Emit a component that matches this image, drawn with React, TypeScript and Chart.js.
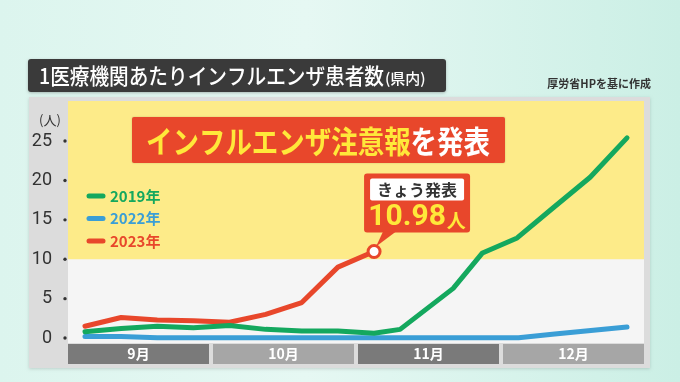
import React, { useEffect, useRef } from "react";
import { Chart, registerables } from "chart.js";

Chart.register(...registerables);

// ---- data ----
const weekIndex = [0, 1, 2, 3, 4, 5, 6, 7, 8, 9, 10, 11, 12, 13, 14, 15];
const x2019 = [0, 1, 2, 3, 4, 5, 6, 7, 8, 8.72, 10.19, 11, 11.96, 12.95, 13.98, 15];
const v2019 = [0.8, 1.2, 1.5, 1.3, 1.6, 1.1, 0.9, 0.9, 0.6, 1.1, 6.3, 10.8, 12.7, 16.5, 20.4, 25.4];
const v2022 = [0.2, 0.2, 0.05, 0.05, 0.05, 0.05, 0.05, 0.05, 0.05, 0.05, 0.05, 0.05, 0.05, 0.5, 0.95, 1.4];
const v2023 = [1.5, 2.6, 2.3, 2.2, 2.0, 3.0, 4.5, 9.0, 10.98];
const seriesNames = ["2019年", "2022年", "2023年"];
const seriesColors = ["#14a85e", "#3a9ed6", "#e8472b"];
const months = ["9月", "10月", "11月", "12月"];
const yTicks = [0, 5, 10, 15, 20, 25];
const alertLevel = 10;
const titleMain = "1医療機関あたりインフルエンザ患者数";
const titleSub = "(県内)";
const sourceText = "厚労省HPを基に作成";
const headlineYellow = "インフルエンザ注意報";
const headlineWhite = "を発表";
const calloutLabel = "きょう発表";
const calloutValue = "10.98";
const calloutUnit = "人";
const yUnit = "(人)";

const JP = "'Noto Sans CJK JP', 'Noto Sans', sans-serif";

function fitText(ctx: CanvasRenderingContext2D, text: string, x: number, y: number, maxW: number) {
  const w = ctx.measureText(text).width;
  if (w > maxW) {
    ctx.save();
    ctx.translate(x, y);
    ctx.scale(maxW / w, 1);
    ctx.fillText(text, 0, 0);
    ctx.restore();
    return maxW;
  }
  ctx.fillText(text, x, y);
  return w;
}

function roundRect(ctx: CanvasRenderingContext2D, x: number, y: number, w: number, h: number, r: number) {
  ctx.beginPath();
  ctx.moveTo(x + r, y);
  ctx.lineTo(x + w - r, y);
  ctx.quadraticCurveTo(x + w, y, x + w, y + r);
  ctx.lineTo(x + w, y + h - r);
  ctx.quadraticCurveTo(x + w, y + h, x + w - r, y + h);
  ctx.lineTo(x + r, y + h);
  ctx.quadraticCurveTo(x, y + h, x, y + h - r);
  ctx.lineTo(x, y + r);
  ctx.quadraticCurveTo(x, y, x + r, y);
  ctx.closePath();
}

const decorPlugin = {
  id: "decor",
  beforeDraw(chart: any) {
    const { ctx, width, height, chartArea, scales } = chart;
    const ca = chartArea;
    ctx.save();
    // background
    const g = ctx.createLinearGradient(0, 0, width, 0);
    g.addColorStop(0, "#dcf5ee");
    g.addColorStop(0.45, "#e6f8f3");
    g.addColorStop(1, "#cbefe5");
    ctx.fillStyle = g;
    ctx.fillRect(0, 0, width, height);

    // title box
    ctx.shadowColor = "rgba(0,0,0,0.25)";
    ctx.shadowBlur = 3;
    ctx.shadowOffsetY = 1;
    ctx.fillStyle = "#3a3a3a";
    roundRect(ctx, 28, 59, 418, 33, 3);
    ctx.fill();
    ctx.shadowColor = "transparent";
    ctx.fillStyle = "#ffffff";
    ctx.textBaseline = "middle";
    ctx.textAlign = "left";
    ctx.font = `500 22px ${JP}`;
    fitText(ctx, titleMain, 39, 76, 345);
    ctx.font = `500 15px ${JP}`;
    fitText(ctx, titleSub, 385, 78, 51);

    // source
    ctx.fillStyle = "#333333";
    ctx.font = `bold 11px ${JP}`;
    ctx.textAlign = "right";
    ctx.fillText(sourceText, 651, 84);

    // panel
    ctx.shadowColor = "rgba(0,0,0,0.15)";
    ctx.shadowBlur = 3;
    ctx.fillStyle = "#dcdcdc";
    ctx.fillRect(29, 97, 621, 271);
    ctx.shadowColor = "transparent";

    // plot backgrounds
    const y = scales.y;
    const yAlert = y.getPixelForValue(alertLevel);
    ctx.fillStyle = "#f5f5f5";
    ctx.fillRect(ca.left, ca.top, ca.right - ca.left, ca.bottom - ca.top);
    ctx.fillStyle = "#fdeb89";
    ctx.fillRect(ca.left, ca.top, ca.right - ca.left, yAlert - ca.top);
    ctx.restore();
  },
  afterDraw(chart: any) {
    const { ctx, chartArea: ca, scales } = chart;
    const y = scales.y;
    ctx.save();
    // tick dots
    ctx.fillStyle = "#333333";
    yTicks.forEach((v) => {
      ctx.beginPath();
      ctx.arc(ca.left - 3, y.getPixelForValue(v), 1.7, 0, Math.PI * 2);
      ctx.fill();
    });
    // y unit
    ctx.font = `13px ${JP}`;
    ctx.textAlign = "center";
    ctx.textBaseline = "middle";
    ctx.fillText(yUnit, 50, 120);

    // month bar
    const gap = 4;
    const segW = (ca.right - ca.left - gap * (months.length - 1)) / months.length;
    months.forEach((m, i) => {
      const sx = ca.left + i * (segW + gap);
      ctx.fillStyle = i % 2 === 0 ? "#7a7a7a" : "#a6a6a6";
      ctx.fillRect(sx, ca.bottom + 1, segW, 20);
      ctx.fillStyle = "#ffffff";
      ctx.font = `bold 14px ${JP}`;
      ctx.textAlign = "center";
      ctx.fillText(m, sx + segW / 2, ca.bottom + 11);
    });

    // legend
    seriesNames.forEach((name, i) => {
      const ly = 196 + i * 22.5;
      ctx.strokeStyle = seriesColors[i];
      ctx.lineWidth = 5;
      ctx.lineCap = "round";
      ctx.beginPath();
      ctx.moveTo(89, ly);
      ctx.lineTo(103, ly);
      ctx.stroke();
      ctx.fillStyle = seriesColors[i];
      ctx.font = `bold 15px ${JP}`;
      ctx.textAlign = "left";
      ctx.fillText(name, 110, ly);
    });

    // headline
    ctx.shadowColor = "rgba(0,0,0,0.2)";
    ctx.shadowBlur = 2;
    ctx.fillStyle = "#e8472b";
    roundRect(ctx, 132, 117, 373, 46, 2);
    ctx.fill();
    ctx.shadowColor = "transparent";
    ctx.font = `bold 31px ${JP}`;
    ctx.textAlign = "left";
    const wY = ctx.measureText(headlineYellow).width;
    const wW = ctx.measureText(headlineWhite).width;
    const sc = Math.min(1, 344 / (wY + wW));
    ctx.save();
    ctx.translate(146, 141);
    ctx.scale(sc, 1);
    ctx.fillStyle = "#ffe83a";
    ctx.fillText(headlineYellow, 0, 0);
    ctx.fillStyle = "#ffffff";
    ctx.fillText(headlineWhite, wY, 0);
    ctx.restore();

    // callout
    const meta = chart.getDatasetMeta(2);
    const pt = meta.data[meta.data.length - 1];
    const px = pt.x, py = pt.y;
    const bx = px - 10, by = py - 78, bw = 106, bh = 59;
    ctx.fillStyle = "#e8472b";
    roundRect(ctx, bx, by, bw, bh, 3);
    ctx.fill();
    ctx.beginPath();
    ctx.moveTo(bx + 19, by + bh - 1);
    ctx.lineTo(bx + 32, by + bh - 1);
    ctx.lineTo(px + 2, py - 5);
    ctx.closePath();
    ctx.fill();
    ctx.fillStyle = "#ffffff";
    roundRect(ctx, bx + 6, by + 5, 94, 22, 2);
    ctx.fill();
    ctx.fillStyle = "#333333";
    ctx.font = `bold 16px ${JP}`;
    ctx.textAlign = "center";
    ctx.fillText(calloutLabel, bx + 53, by + 16);
    ctx.fillStyle = "#ffe83a";
    ctx.font = `bold 30px Roboto, ${JP}`;
    ctx.textAlign = "left";
    const vw = ctx.measureText(calloutValue).width;
    ctx.font = `bold 19px ${JP}`;
    const uw = ctx.measureText(calloutUnit).width;
    const startX = bx + 53 - (vw + uw + 1) / 2;
    ctx.font = `bold 30px Roboto, ${JP}`;
    ctx.fillText(calloutValue, startX, by + 44);
    ctx.font = `bold 19px ${JP}`;
    ctx.fillText(calloutUnit, startX + vw + 1, by + 47);
    ctx.restore();
  },
};

export default function App() {
  const ref = useRef<HTMLCanvasElement>(null);
  useEffect(() => {
    if (!ref.current) return;
    const lastIdx = v2023.length - 1;
    const chart = new Chart(ref.current, {
      type: "line",
      data: {
        datasets: [
          {
            label: seriesNames[0],
            data: x2019.map((x, i) => ({ x, y: v2019[i] })),
            borderColor: seriesColors[0],
            borderWidth: 5,
            pointRadius: 0,
            tension: 0,
            borderCapStyle: "round",
            borderJoinStyle: "round",
          },
          {
            label: seriesNames[1],
            data: weekIndex.map((x, i) => ({ x, y: v2022[i] })),
            borderColor: seriesColors[1],
            borderWidth: 5,
            pointRadius: 0,
            tension: 0,
            borderCapStyle: "round",
            borderJoinStyle: "round",
          },
          {
            label: seriesNames[2],
            data: v2023.map((y, i) => ({ x: weekIndex[i], y })),
            borderColor: seriesColors[2],
            borderWidth: 5,
            pointRadius: (c: any) => (c.dataIndex === lastIdx ? 6 : 0),
            pointBackgroundColor: "#ffffff",
            pointBorderColor: seriesColors[2],
            pointBorderWidth: 3,
            tension: 0,
            borderCapStyle: "round",
            borderJoinStyle: "round",
          },
        ],
      } as any,
      options: {
        animation: false,
        responsive: false,
        devicePixelRatio: 1,
        layout: { padding: { top: 101, bottom: 39, right: 36, left: 28 } },
        plugins: { legend: { display: false }, tooltip: { enabled: false }, title: { display: false } },
        scales: {
          x: { type: "linear", min: -0.47, max: 15.47, display: false },
          y: {
            min: -0.63,
            max: 30.08,
            grid: { display: false },
            border: { display: false },
            afterFit: (s: any) => {
              s.width = 40;
            },
            afterBuildTicks: (axis: any) => {
              axis.ticks = yTicks.map((v) => ({ value: v }));
            },
            ticks: {
              padding: 8,
              color: "#333333",
              font: { family: "Roboto, sans-serif", size: 18 },
              callback: (v: any) => String(v),
            },
          },
        },
      } as any,
      plugins: [decorPlugin],
    });
    return () => chart.destroy();
  }, []);
  return (
    <div style={{ position: "fixed", left: 0, top: 0, width: 680, height: 382 }}>
      <canvas ref={ref} width={680} height={382} style={{ width: 680, height: 382 }} />
    </div>
  );
}
